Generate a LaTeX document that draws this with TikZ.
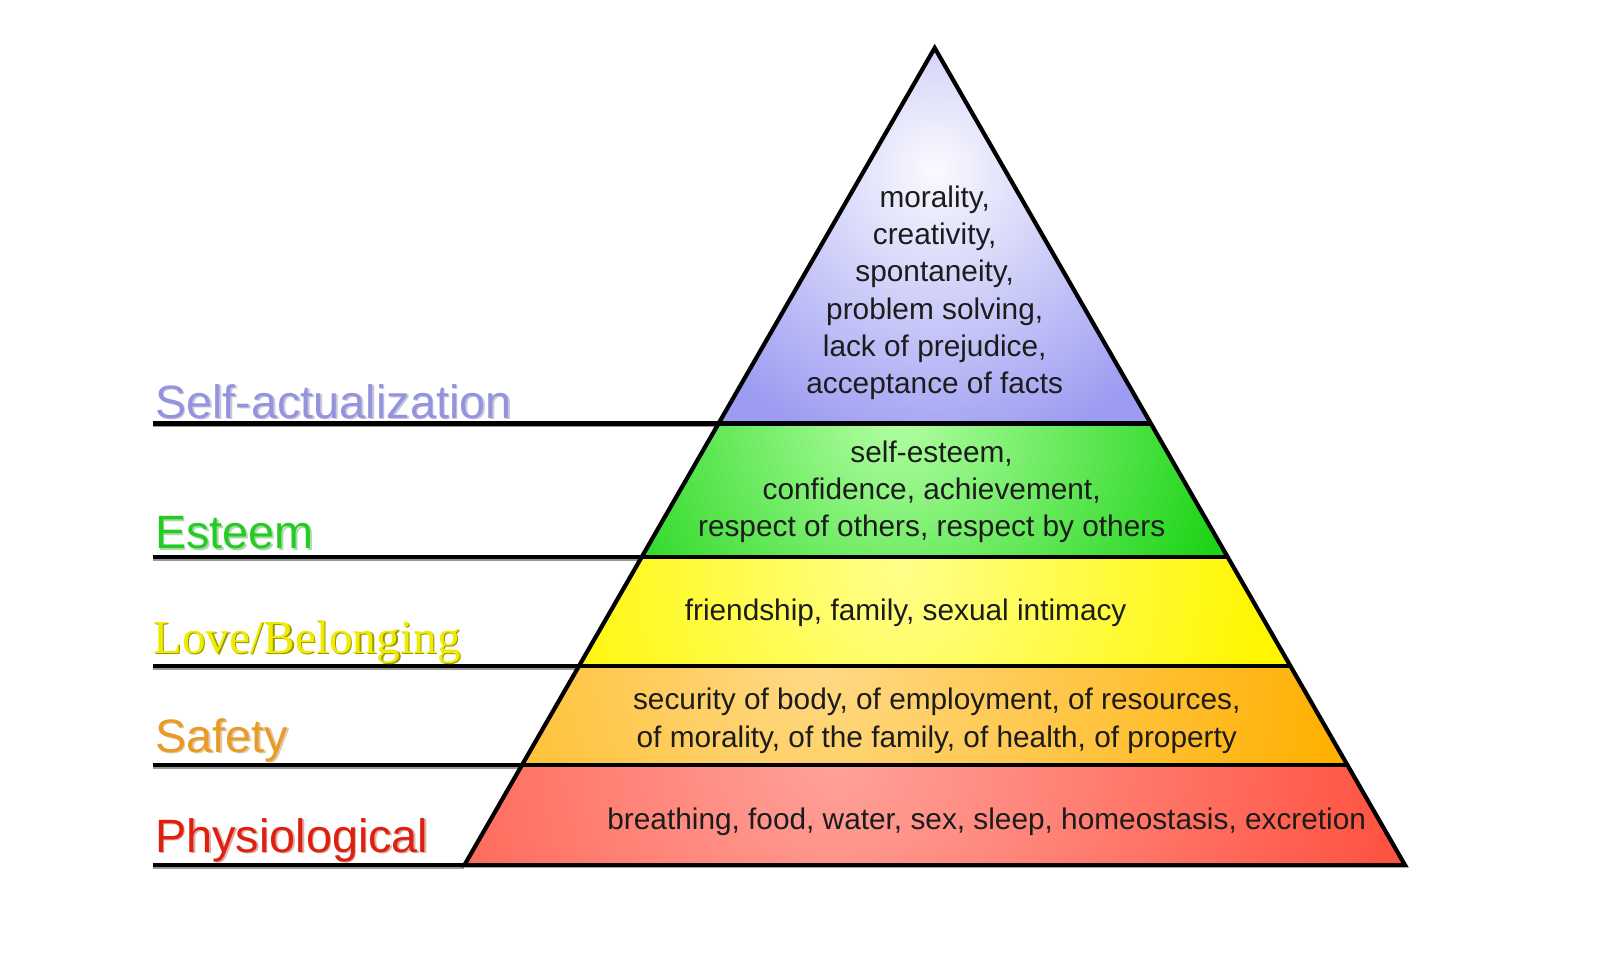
\documentclass[tikz,border=0pt]{standalone}
\usepackage{fontspec}
\setmainfont{Liberation Sans}
\newfontfamily\serifface{Liberation Serif}
\definecolor{txt}{HTML}{1C1C1C}
\definecolor{saIn}{HTML}{FAFAFF}
\definecolor{saOut}{HTML}{9C9CF2}
\definecolor{esIn}{HTML}{B4FFA4}
\definecolor{esOut}{HTML}{1ED418}
\definecolor{loIn}{HTML}{FFFF8A}
\definecolor{loOut}{HTML}{FFF600}
\definecolor{sfIn}{HTML}{FFDA88}
\definecolor{sfOut}{HTML}{FFB000}
\definecolor{phIn}{HTML}{FFA29A}
\definecolor{phOut}{HTML}{FF4E3C}
\definecolor{saLab}{HTML}{9494DE}
\definecolor{esLab}{HTML}{22CC22}
\definecolor{loLab}{HTML}{F0EC00}
\definecolor{loShadow}{HTML}{9C9600}
\definecolor{sfLab}{HTML}{E89C26}
\definecolor{phLab}{HTML}{E0200E}
\tikzset{
  edge/.style={draw=black, line width=4.2pt},
  shadowline/.style={draw=black!40, line width=2pt},
  bandtext/.style={text=txt, font=\fontsize{29.8}{37.35}\selectfont, align=center, inner sep=0pt},
  levellabel/.style={font=\fontsize{46.8}{52}\selectfont, anchor=base west, inner sep=0pt},
  lovefont/.style={font=\serifface\fontsize{47.3}{52}\selectfont},
}
\begin{document}
\begin{tikzpicture}[x=1.0204pt,y=-1.0204pt]
\useasboundingbox (0,0) rectangle (1568,955.5);
\fill[white] (0,0) rectangle (1568,955.5);
% triangle points
\coordinate (apex) at (916,47);
\coordinate (l1) at (704.2,415);  \coordinate (r1) at (1127.8,415);
\coordinate (l2) at (628.8,546);  \coordinate (r2) at (1203.2,546);
\coordinate (l3) at (567.2,653);  \coordinate (r3) at (1264.8,653);
\coordinate (l4) at (511.4,750);  \coordinate (r4) at (1320.6,750);
\coordinate (l5) at (455,848);    \coordinate (r5) at (1377,848);
% left ends of the level lines
\coordinate (s1) at (150,415);
\coordinate (s2) at (150,546);
\coordinate (s3) at (150,653);
\coordinate (s4) at (150,750);
\coordinate (s5) at (150,848);
% bands
\begin{scope}
  \clip (apex) -- (l1) -- (r1) -- cycle;
  \fill[saOut] (apex) -- (l1) -- (r1) -- cycle;
  \shade[inner color=saIn, outer color=saOut] (916,165) circle (285);
\end{scope}
\begin{scope}
  \clip (l1) -- (l2) -- (r2) -- (r1) -- cycle;
  \fill[esOut] (l1) -- (l2) -- (r2) -- (r1) -- cycle;
  \shade[inner color=esIn, outer color=esOut] (880,405) circle (330);
\end{scope}
\begin{scope}
  \clip (l2) -- (l3) -- (r3) -- (r2) -- cycle;
  \fill[loOut] (l2) -- (l3) -- (r3) -- (r2) -- cycle;
  \shade[inner color=loIn, outer color=loOut] (880,560) circle (360);
\end{scope}
\begin{scope}
  \clip (l3) -- (l4) -- (r4) -- (r3) -- cycle;
  \fill[sfOut] (l3) -- (l4) -- (r4) -- (r3) -- cycle;
  \shade[inner color=sfIn, outer color=sfOut] (800,640) circle (520);
\end{scope}
\begin{scope}
  \clip (l4) -- (l5) -- (r5) -- (r4) -- cycle;
  \fill[phOut] (l4) -- (l5) -- (r5) -- (r4) -- cycle;
  \shade[inner color=phIn, outer color=phOut] (820,740) circle (580);
\end{scope}
% level line shadows
\foreach \i in {1,...,5} {
  \draw[shadowline] ([yshift=-3pt]s\i) -- ([yshift=-3pt]l\i);
}
% lines
\draw[edge, line join=miter] (apex) -- (l5) -- (r5) -- cycle;
\draw[edge] (s1) -- (r1);
\draw[edge] (s2) -- (r2);
\draw[edge] (s3) -- (r3);
\draw[edge] (s4) -- (r4);
\draw[edge] (s5) -- (r5);
% band texts
\node[bandtext] (tsa) at (916,287) {morality,\\creativity,\\spontaneity,\\problem solving,\\lack of prejudice,\\acceptance of facts};
\node[bandtext] (tes) at (913,482) {self-esteem,\\confidence, achievement,\\respect of others, respect by others};
\node[bandtext, anchor=base] (tlo) at (887.5,608) {friendship, family, sexual intimacy};
\node[bandtext] (tsf) at (918,706.5) {security of body, of employment, of resources,\\of morality, of the family, of health, of property};
\node[bandtext, anchor=base] (tph) at (967,813) {breathing, food, water, sex, sleep, homeostasis, excretion};
% level labels
\node[levellabel, text=saLab!70!black, opacity=0.35] at (153.5,411.5) {Self-actualization};
\node[levellabel, text=saLab] (lsa) at (152,410) {Self-actualization};
\node[levellabel, text=esLab!70!black, opacity=0.35] at (153.5,539.5) {Esteem};
\node[levellabel, text=esLab] (les) at (152,538) {Esteem};
\node[levellabel, lovefont, text=loShadow] at (151.5,641.5) {Love/Belonging};
\node[levellabel, lovefont, text=loLab] (llo) at (150,640) {Love/Belonging};
\node[levellabel, text=sfLab!70!black, opacity=0.35] at (153.5,738.5) {Safety};
\node[levellabel, text=sfLab] (lsf) at (152,737) {Safety};
\node[levellabel, text=phLab!70!black, opacity=0.35] at (153.5,836.5) {Physiological};
\node[levellabel, text=phLab] (lph) at (152,835) {Physiological};
\end{tikzpicture}
\end{document}
